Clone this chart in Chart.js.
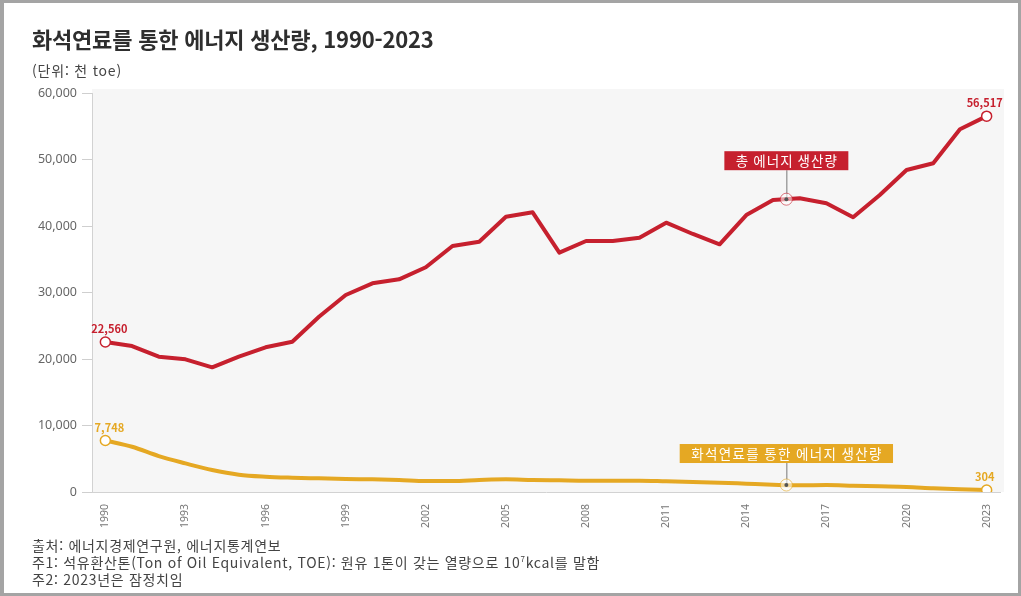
<!DOCTYPE html>
<html lang="ko">
<head>
<meta charset="utf-8">
<title>화석연료를 통한 에너지 생산량, 1990-2023</title>
<script src="https://cdn.jsdelivr.net/npm/chart.js@4.4.1/dist/chart.umd.min.js"></script>
<style>
  html, body { margin: 0; padding: 0; background: #fff; }
  body { width: 1021px; height: 596px; position: relative; overflow: hidden;
         font-family: "Noto Sans CJK KR", "Noto Sans", sans-serif; }
  #wrap { position: absolute; left: 0; top: 0; width: 1021px; height: 596px; }
  #frame { position: absolute; left: 0; top: 0; width: 1021px; height: 596px; box-sizing: border-box;
           border: 3px solid #a4a4a4; border-left-width: 4px; pointer-events: none; }
  .title { position: absolute; left: 32px; top: 23px; font-size: 22px; font-weight: 700;
           color: #2e2e2e; line-height: 30px; letter-spacing: -0.2px; }
  .unit { position: absolute; left: 32px; top: 61px; font-size: 14px; color: #444; line-height: 19px;
          letter-spacing: 0.8px; }
  .notes { position: absolute; left: 32px; top: 537px; font-size: 14px; color: #444; line-height: 17px;
           letter-spacing: 0.7px; }
  .notes sup { font-size: 8px; line-height: 0; }
</style>
</head>
<body>
<div id="wrap"><canvas id="chart"></canvas></div>
<div class="title">화석연료를 통한 에너지 생산량, 1990-2023</div>
<div class="unit">(단위: 천 toe)</div>
<div class="notes">
  출처: 에너지경제연구원, 에너지통계연보<br>
  주1: 석유환산톤(Ton of Oil Equivalent, TOE): 원유 1톤이 갖는 열량으로 10<sup>7</sup>kcal를 말함<br>
  주2: 2023년은 잠정치임
</div>
<div id="frame"></div>

<script>
// Years on the horizontal axis
const years = ['1990','1991','1992','1993','1994','1995','1996','1997','1998','1999',
               '2000','2001','2002','2003','2004','2005','2006','2007','2008','2009',
               '2010','2011','2012','2013','2014','2015','2016','2017','2018','2019',
               '2020','2021','2022','2023'];

// Total energy production (thousand toe)
const totalProduction = [22560, 21950, 20350, 19950, 18750, 20350, 21760, 22600, 26360, 29620,
                         31380, 31980, 33790, 37000, 37640, 41400, 42060, 35990, 37740, 37740,
                         38240, 40500, 38800, 37250, 41650, 43900, 44160, 43410, 41310, 44660,
                         48420, 49430, 54540, 56517];

// Energy production from fossil fuels (thousand toe)
const fossilProduction = [7748, 6800, 5400, 4300, 3300, 2600, 2300, 2150, 2050, 1950,
                          1900, 1800, 1650, 1650, 1800, 1900, 1800, 1750, 1700, 1700,
                          1700, 1600, 1500, 1400, 1250, 1100, 1000, 1050, 950, 850,
                          750, 550, 400, 304];

const yTicks = [0, 10000, 20000, 30000, 40000, 50000, 60000];
const seriesNames = ['총 에너지 생산량', '화석연료를 통한 에너지 생산량'];

const RED = '#c6202e';
const GOLD = '#e5a823';
const lastIdx = years.length - 1;

function endpointRadius(n) {
  return years.map((_, i) => (i === 0 || i === n) ? 5 : 0);
}

// Light grey panel behind the plotting area
const panelBg = {
  id: 'panelBg',
  beforeDraw(chart) {
    const { ctx, chartArea: a } = chart;
    ctx.save();
    ctx.fillStyle = '#f6f6f6';
    ctx.fillRect(a.left, a.top - 4, a.right - a.left + 4, a.bottom - a.top + 4);
    ctx.restore();
  }
};

// Value labels at the first and last point of each series
const endLabels = {
  id: 'endLabels',
  afterDatasetsDraw(chart) {
    const { ctx } = chart;
    const xs = chart.scales.x, ys = chart.scales.y;
    ctx.save();
    ctx.font = '600 11px "Noto Sans CJK KR", "Noto Sans", sans-serif';
    ctx.textAlign = 'center';
    ctx.textBaseline = 'middle';
    chart.data.datasets.forEach(ds => {
      ctx.fillStyle = ds.borderColor;
      [0, lastIdx].forEach(i => {
        const v = ds.data[i];
        const x = xs.getPixelForValue(i) + (i === 0 ? 4 : -2);
        const y = ys.getPixelForValue(v) - 13;
        ctx.fillText(v.toLocaleString('en-US'), x, y);
      });
    });
    ctx.restore();
  }
};

// Series name tags pointing at a spot on each line
const seriesTags = {
  id: 'seriesTags',
  afterDatasetsDraw(chart) {
    const { ctx } = chart;
    const xs = chart.scales.x, ys = chart.scales.y;
    const a = 25, b = 26;
    const px = (xs.getPixelForValue(a) + xs.getPixelForValue(b)) / 2;
    const tags = [
      { ds: 0, gap: 29, text: seriesNames[0], color: RED, spacing: 1 },
      { ds: 1, gap: 22, text: seriesNames[1], color: GOLD, spacing: 1.3 }
    ];
    ctx.save();
    ctx.font = '13.5px "Noto Sans CJK KR", "Noto Sans", sans-serif';
    tags.forEach(t => {
      const d = chart.data.datasets[t.ds].data;
      const py = ys.getPixelForValue((d[a] + d[b]) / 2);
      ctx.letterSpacing = t.spacing + 'px';
      const w = ctx.measureText(t.text).width + 22;
      const h = 19;
      const boxBottom = py - t.gap;
      // connector
      ctx.strokeStyle = '#777';
      ctx.lineWidth = 1;
      ctx.beginPath();
      ctx.moveTo(px + 0.5, boxBottom);
      ctx.lineTo(px + 0.5, py);
      ctx.stroke();
      // marker ring
      ctx.beginPath();
      ctx.arc(px, py, 6, 0, Math.PI * 2);
      ctx.fillStyle = 'rgba(255,255,255,0.55)';
      ctx.fill();
      ctx.strokeStyle = t.color;
      ctx.globalAlpha = 0.6;
      ctx.stroke();
      ctx.globalAlpha = 1;
      ctx.beginPath();
      ctx.arc(px, py, 2, 0, Math.PI * 2);
      ctx.fillStyle = '#555';
      ctx.fill();
      // label box
      ctx.fillStyle = t.color;
      ctx.fillRect(px - w / 2, boxBottom - h, w, h);
      ctx.fillStyle = '#fff';
      ctx.textAlign = 'center';
      ctx.textBaseline = 'middle';
      ctx.fillText(t.text, px + t.spacing / 2, boxBottom - h / 2 + 0.5);
    });
    ctx.restore();
  }
};

new Chart(document.getElementById('chart'), {
  type: 'line',
  data: {
    labels: years,
    datasets: [
      {
        label: seriesNames[0],
        data: totalProduction,
        borderColor: RED,
        borderWidth: 4,
        tension: 0,
        borderJoinStyle: 'round',
        pointRadius: endpointRadius(lastIdx),
        pointBackgroundColor: '#fff',
        pointBorderColor: RED,
        pointBorderWidth: 1.5,
        pointHoverRadius: 0
      },
      {
        label: seriesNames[1],
        data: fossilProduction,
        borderColor: GOLD,
        borderWidth: 4,
        tension: 0.4,
        cubicInterpolationMode: 'monotone',
        pointRadius: endpointRadius(lastIdx),
        pointBackgroundColor: '#fff',
        pointBorderColor: GOLD,
        pointBorderWidth: 1.5,
        pointHoverRadius: 0
      }
    ]
  },
  options: {
    responsive: true,
    maintainAspectRatio: false,
    animation: false,
    events: [],
    layout: { padding: { left: 0, top: 93, right: 21, bottom: 64 } },
    plugins: { legend: { display: false }, tooltip: { enabled: false } },
    scales: {
      x: {
        type: 'category',
        offset: true,
        grid: { display: false },
        border: { display: true, color: '#d2d2d2', width: 1 },
        ticks: {
          autoSkip: false,
          maxRotation: 90,
          minRotation: 90,
          padding: 4,
          color: '#777',
          font: { size: 10.5, family: '"Noto Sans", sans-serif' },
          callback: (v, i) => (i % 3 === 0 ? years[i] : '')
        },
        afterFit(scale) { scale.height = 40; }
      },
      y: {
        min: yTicks[0],
        max: yTicks[yTicks.length - 1],
        afterBuildTicks(scale) { scale.ticks = yTicks.map(v => ({ value: v })); },
        grid: { drawOnChartArea: false, drawTicks: true, tickLength: 10, color: '#cfcfcf' },
        border: { display: true, color: '#d2d2d2', width: 1 },
        ticks: {
          padding: 5,
          color: '#666',
          font: { size: 12.5, family: '"Noto Sans", sans-serif' },
          callback: v => v.toLocaleString('en-US')
        },
        afterFit(scale) { scale.width = 92; }
      }
    }
  },
  plugins: [panelBg, endLabels, seriesTags]
});
</script>
</body>
</html>
